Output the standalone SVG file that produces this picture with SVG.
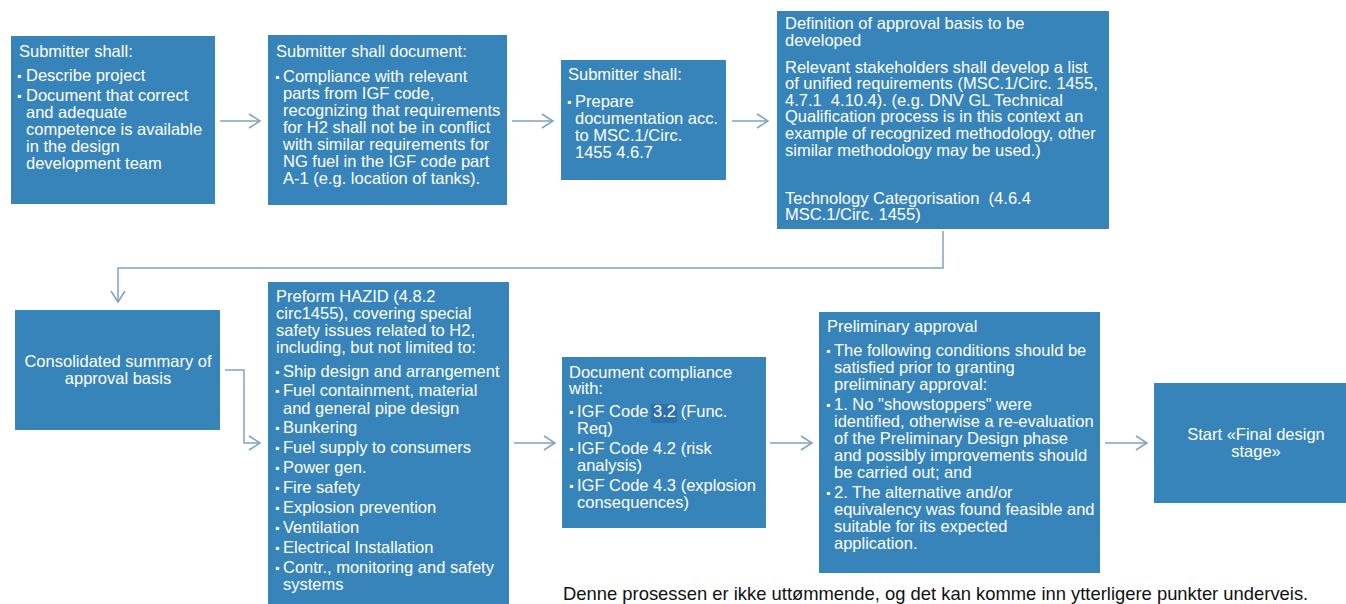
<svg xmlns="http://www.w3.org/2000/svg" width="1346" height="604" viewBox="0 0 1346 604">
<style>
.box{fill:#3784bb}
.t{font-family:"Liberation Sans",Arial,sans-serif;font-size:16.5px;fill:#ffffff}
.c{text-anchor:middle}
.b{font-size:12px}
.ln{fill:none;stroke:#7fa2c2;stroke-width:1.5}
.foot{font-family:"Liberation Sans",Arial,sans-serif;font-size:18.4px;fill:#111111}
</style>
<defs>
<marker id="ah" markerUnits="userSpaceOnUse" markerWidth="16" markerHeight="18" refX="12" refY="8" orient="auto">
<path d="M1,1 L12,8 L1,15" fill="none" stroke="#7fa2c2" stroke-width="1.5"/>
</marker>
</defs>
<rect width="1346" height="604" fill="#ffffff"/>

<g id="connectors">
<path class="ln" d="M220,121 H260" marker-end="url(#ah)"/>
<path class="ln" d="M512,121 H553" marker-end="url(#ah)"/>
<path class="ln" d="M732,121 H768" marker-end="url(#ah)"/>
<path class="ln" d="M943,231 V268 H118 V302" marker-end="url(#ah)"/>
<path class="ln" d="M225,370 H244 V443 H260" marker-end="url(#ah)"/>
<path class="ln" d="M514,443 H555" marker-end="url(#ah)"/>
<path class="ln" d="M770,443 H812" marker-end="url(#ah)"/>
<path class="ln" d="M1105,443 H1147" marker-end="url(#ah)"/>
</g>

<g id="n1">
<rect class="box" x="11" y="36" width="204" height="168"/>
<text class="t" x="19" y="57">Submitter shall:</text>
<text class="t b" x="17" y="80">▪</text>
<text class="t" x="26" y="81">Describe project</text>
<text class="t b" x="17" y="100">▪</text>
<text class="t" x="26" y="101">Document that correct</text>
<text class="t" x="26" y="118">and adequate</text>
<text class="t" x="26" y="135">competence is available</text>
<text class="t" x="26" y="152">in the design</text>
<text class="t" x="26" y="169">development team</text>
</g>

<g id="n2">
<rect class="box" x="268" y="35" width="239" height="170"/>
<text class="t" x="276" y="57">Submitter shall document:</text>
<text class="t b" x="275" y="81">▪</text>
<text class="t" x="283" y="82">Compliance with relevant</text>
<text class="t" x="283" y="99">parts from IGF code,</text>
<text class="t" x="283" y="116">recognizing that requirements</text>
<text class="t" x="283" y="133">for H2 shall not be in conflict</text>
<text class="t" x="283" y="150">with similar requirements for</text>
<text class="t" x="283" y="167">NG fuel in the IGF code part</text>
<text class="t" x="283" y="184">A-1 (e.g. location of tanks).</text>
</g>

<g id="n3">
<rect class="box" x="561" y="60" width="165" height="120"/>
<text class="t" x="568" y="80">Submitter shall:</text>
<text class="t b" x="567" y="106">▪</text>
<text class="t" x="575" y="107">Prepare</text>
<text class="t" x="575" y="124">documentation acc.</text>
<text class="t" x="575" y="141">to MSC.1/Circ.</text>
<text class="t" x="575" y="158">1455 4.6.7</text>
</g>

<g id="n4">
<rect class="box" x="777" y="11" width="332" height="218"/>
<text class="t" x="785" y="29">Definition of approval basis to be</text>
<text class="t" x="785" y="46">developed</text>
<text class="t" x="785" y="73">Relevant stakeholders shall develop a list</text>
<text class="t" x="785" y="89">of unified requirements (MSC.1/Circ. 1455,</text>
<text class="t" x="785" y="106" xml:space="preserve">4.7.1  4.10.4). (e.g. DNV GL Technical</text>
<text class="t" x="785" y="122">Qualification process is in this context an</text>
<text class="t" x="785" y="139">example of recognized methodology, other</text>
<text class="t" x="785" y="156">similar methodology may be used.)</text>
<text class="t" x="785" y="204" xml:space="preserve">Technology Categorisation  (4.6.4</text>
<text class="t" x="785" y="220">MSC.1/Circ. 1455)</text>
</g>

<g id="n5">
<rect class="box" x="15" y="310" width="205" height="120"/>
<text class="t c" x="118" y="367">Consolidated summary of</text>
<text class="t c" x="118" y="384">approval basis</text>
</g>

<g id="n6">
<rect class="box" x="268" y="282" width="241" height="322"/>
<text class="t" x="276" y="302">Preform HAZID (4.8.2</text>
<text class="t" x="276" y="319">circ1455), covering special</text>
<text class="t" x="276" y="336">safety issues related to H2,</text>
<text class="t" x="276" y="353">including, but not limited to:</text>
<text class="t b" x="275" y="376">▪</text>
<text class="t" x="283" y="377">Ship design and arrangement</text>
<text class="t b" x="275" y="395">▪</text>
<text class="t" x="283" y="396">Fuel containment, material</text>
<text class="t" x="283" y="414">and general pipe design</text>
<text class="t b" x="275" y="432">▪</text>
<text class="t" x="283" y="433">Bunkering</text>
<text class="t b" x="275" y="452">▪</text>
<text class="t" x="283" y="453">Fuel supply to consumers</text>
<text class="t b" x="275" y="472">▪</text>
<text class="t" x="283" y="473">Power gen.</text>
<text class="t b" x="275" y="492">▪</text>
<text class="t" x="283" y="493">Fire safety</text>
<text class="t b" x="275" y="512">▪</text>
<text class="t" x="283" y="513">Explosion prevention</text>
<text class="t b" x="275" y="532">▪</text>
<text class="t" x="283" y="533">Ventilation</text>
<text class="t b" x="275" y="552">▪</text>
<text class="t" x="283" y="553">Electrical Installation</text>
<text class="t b" x="275" y="572">▪</text>
<text class="t" x="283" y="573">Contr., monitoring and safety</text>
<text class="t" x="283" y="590">systems</text>
</g>

<g id="n7">
<rect class="box" x="562" y="357" width="204" height="171"/>
<rect x="651" y="404" width="26" height="19" fill="#2e6fae"/>
<text class="t" x="569" y="378">Document compliance</text>
<text class="t" x="569" y="394">with:</text>
<text class="t b" x="569" y="416">▪</text>
<text class="t" x="577" y="417">IGF Code 3.2 (Func.</text>
<text class="t" x="577" y="434">Req)</text>
<text class="t b" x="569" y="453">▪</text>
<text class="t" x="577" y="454">IGF Code 4.2 (risk</text>
<text class="t" x="577" y="471">analysis)</text>
<text class="t b" x="569" y="490">▪</text>
<text class="t" x="577" y="491">IGF Code 4.3 (explosion</text>
<text class="t" x="577" y="508">consequences)</text>
</g>

<g id="n8">
<rect class="box" x="819" y="312" width="281" height="261"/>
<text class="t" x="827" y="332">Preliminary approval</text>
<text class="t b" x="826" y="355">▪</text>
<text class="t" x="834" y="356">The following conditions should be</text>
<text class="t" x="834" y="373">satisfied prior to granting</text>
<text class="t" x="834" y="390">preliminary approval:</text>
<text class="t b" x="826" y="409">▪</text>
<text class="t" x="834" y="410">1. No "showstoppers" were</text>
<text class="t" x="834" y="427">identified, otherwise a re-evaluation</text>
<text class="t" x="834" y="444">of the Preliminary Design phase</text>
<text class="t" x="834" y="461">and possibly improvements should</text>
<text class="t" x="834" y="478">be carried out; and</text>
<text class="t b" x="826" y="497">▪</text>
<text class="t" x="834" y="498">2. The alternative and/or</text>
<text class="t" x="834" y="515">equivalency was found feasible and</text>
<text class="t" x="834" y="532">suitable for its expected</text>
<text class="t" x="834" y="549">application.</text>
</g>

<g id="n9">
<rect class="box" x="1154" y="383" width="192" height="120"/>
<text class="t c" x="1256" y="440">Start «Final design</text>
<text class="t c" x="1256" y="457">stage»</text>
</g>

<text class="foot" x="563" y="600">Denne prosessen er ikke uttømmende, og det kan komme inn ytterligere punkter underveis.</text>
</svg>
